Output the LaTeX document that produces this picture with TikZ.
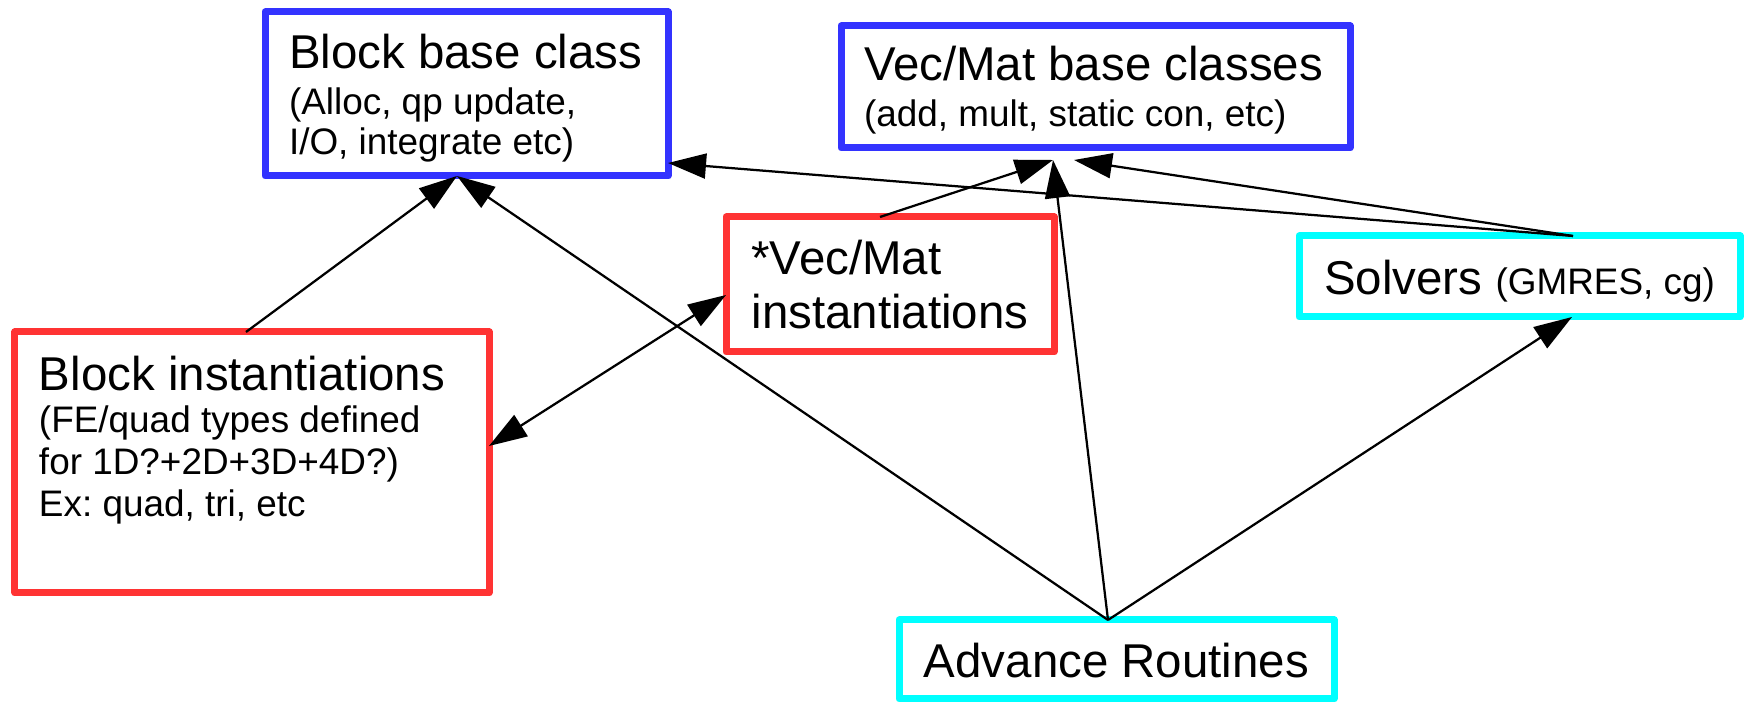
\documentclass[tikz,border=0pt]{standalone}
\usepackage{fontspec}
\setmainfont{Liberation Sans}
\frenchspacing
\usetikzlibrary{arrows.meta,positioning,calc}

\definecolor{baseblue}{RGB}{51,51,255}
\definecolor{instred}{RGB}{255,51,51}
\definecolor{drvcyan}{RGB}{0,255,255}

\newcommand{\bigsz}{\fontsize{27pt}{31pt}\selectfont}
\newcommand{\subsz}{\fontsize{21pt}{24pt}\selectfont}
% text set from the top of a box: height, width, text
\newcommand{\topbox}[3]{\parbox[c][#1][t]{#2}{#3}}

\tikzset{
  blk/.style={draw,rectangle,line width=0.14cm,line join=round,align=left,inner xsep=0.48cm,inner ysep=0pt,outer sep=0pt},
  baseblk/.style={blk,draw=baseblue},
  instblk/.style={blk,draw=instred},
  drvblk/.style={blk,draw=drvcyan},
  arr/.style={-{Triangle[length=0.76cm,width=0.5cm]},line width=0.045cm},
  darr/.style={{Triangle[length=0.76cm,width=0.5cm]}-{Triangle[length=0.76cm,width=0.5cm]},line width=0.045cm}
}

\begin{document}
\begin{tikzpicture}
  \useasboundingbox (0,0) rectangle (34.88,14.04);
  % Base classes
  \node[baseblk, font=\subsz, inner ysep=0.45cm, minimum width=8.06cm, minimum height=3.28cm] (blkbase) at (9.33,12.16)
    {\topbox{2.38cm}{7.1cm}{{\bigsz\mbox{Block base class}}\\[2pt](Alloc, qp update,\\[-1.2pt]I/O, integrate etc)}};
  \node[baseblk, font=\subsz, inner xsep=0.46cm, inner ysep=0.404cm, minimum width=10.18cm, minimum height=2.44cm] (vmbase) at (21.91,12.3)
    {\topbox{1.63cm}{9.26cm}{{\bigsz\mbox{Vec/Mat base classes}}\\[2.2pt](add, mult, static con, etc)}};

  % Instantiations
  \node[instblk, font=\subsz, inner ysep=0.48cm, minimum width=9.48cm, minimum height=5.22cm] (blkinst) at (5.04,4.79)
    {\topbox{4.26cm}{8.52cm}{{\bigsz\mbox{Block instantiations}}\\(FE/quad types defined\\for 1D?+2D+3D+4D?)\\Ex: quad, tri, etc}};
  \node[instblk, font=\bigsz, minimum width=6.56cm, minimum height=2.7cm] (vminst) at (17.8,8.35)
    {*Vec/Mat\\instantiations};

  % Drivers
  \node[drvblk, font=\bigsz, minimum width=8.82cm, minimum height=1.62cm, text height=20.6pt, text depth=0pt] (solv) at (30.39,8.51)
    {Solvers {\subsz (GMRES, cg)}};
  \node[drvblk, font=\bigsz, minimum width=8.7cm, minimum height=1.58cm, text height=20.3pt, text depth=0pt] (adv) at (22.33,0.85)
    {Advance Routines};

  % Dependencies
  \draw[arr] ([xshift=-0.12cm]blkinst.north) -- ([xshift=-0.19cm]blkbase.south);
  \draw[arr] ([xshift=-0.17cm]adv.north) -- ([xshift=-0.19cm]blkbase.south);
  \draw[darr] ([yshift=0.33cm]blkinst.east) -- ([yshift=-0.21cm]vminst.west);
  \draw[arr] ([xshift=-0.2cm]vminst.north) -- ([xshift=-0.85cm,yshift=-0.24cm]vmbase.south);
  \draw[arr] ([xshift=-0.17cm]adv.north) -- ([xshift=-0.85cm,yshift=-0.24cm]vmbase.south);
  \draw[arr] ([xshift=1.07cm]solv.north) -- ([yshift=-1.38cm]blkbase.east);
  \draw[arr] ([xshift=1.07cm]solv.north) -- ([xshift=-0.43cm,yshift=-0.24cm]vmbase.south);
  \draw[arr] ([xshift=-0.17cm]adv.north) -- ([xshift=1.05cm]solv.south);
\end{tikzpicture}
\end{document}
